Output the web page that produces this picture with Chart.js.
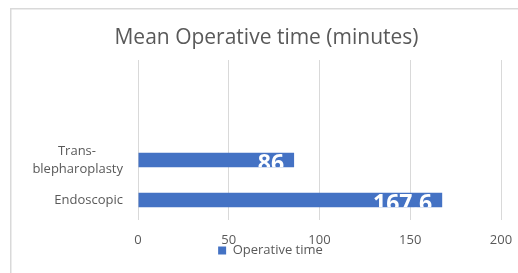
<!DOCTYPE html>
<html><head><meta charset="utf-8">
<script src="https://cdn.jsdelivr.net/npm/chart.js@4"></script>
<style>html,body{margin:0;padding:0;background:#fff;overflow:hidden}canvas{display:block}</style>
</head><body>
<canvas id="c" width="518" height="273"></canvas>
<script>
const categories = ['', '', ['Trans-', 'blepharoplasty'], 'Endoscopic'];
const operativeTime = [null, null, 86, 167.6];
const seriesName = 'Operative time';
const chartTitle = 'Mean Operative time (minutes)';
const xTicks = [0, 50, 100, 150, 200];

const TXT = '#595959';
const FONT = '"Open Sans", "Noto Sans", sans-serif';

// center the lines of a multi-line category label inside its right-aligned block
function centerLines(lines) {
  const c = document.createElement('canvas').getContext('2d');
  c.font = '13px ' + FONT;
  const w = lines.map(l => c.measureText(l).width);
  const max = Math.max(...w);
  const sp = c.measureText('\u00a0').width;
  return lines.map((l, i) => l + '\u00a0'.repeat(Math.round((max - w[i]) / 2 / sp)));
}

const framePlugin = {
  id: 'frame',
  beforeDraw(chart) {
    const ctx = chart.ctx;
    ctx.save();
    ctx.strokeStyle = '#d9d9d9';
    ctx.lineWidth = 1.5;
    ctx.strokeRect(10.75, 8.75, 700, 400);
    ctx.restore();
  }
};

const shiftBoxes = {
  id: 'shiftBoxes',
  afterLayout(chart) {
    const l = chart.legend;
    if (l) { l.left += 20; l.right += 20; }
    const t = chart.titleBlock;
    if (t) { t.left += 16; t.right += 16; }
  }
};

const valueLabels = {
  id: 'valueLabels',
  afterDatasetsDraw(chart) {
    const ctx = chart.ctx;
    const meta = chart.getDatasetMeta(0);
    meta.data.forEach((bar, i) => {
      const v = operativeTime[i];
      if (v == null) return;
      const p = bar.getProps(['x', 'y', 'base', 'height'], true);
      ctx.save();
      ctx.beginPath();
      ctx.rect(p.base, p.y - p.height / 2, p.x - p.base, p.height);
      ctx.clip();
      ctx.fillStyle = '#ffffff';
      ctx.font = 'bold 23px ' + FONT;
      ctx.textAlign = 'right';
      ctx.textBaseline = 'middle';
      ctx.fillText(String(v), p.x - 10, p.y + 4);
      ctx.restore();
    });
  }
};

new Chart(document.getElementById('c'), {
  type: 'bar',
  data: {
    labels: categories,
    datasets: [{
      label: seriesName,
      data: operativeTime,
      backgroundColor: '#4472C4',
      borderWidth: 0,
      categoryPercentage: 1,
      barPercentage: 0.36
    }]
  },
  options: {
    indexAxis: 'y',
    responsive: false,
    animation: false,
    devicePixelRatio: 1,
    layout: { padding: { left: 0, right: 17, top: 10, bottom: 6 } },
    plugins: {
      title: {
        display: true,
        text: chartTitle,
        color: TXT,
        font: { family: FONT, size: 21, weight: 'normal', lineHeight: 1.2 },
        padding: { top: 15, bottom: 9.8 }
      },
      legend: {
        display: true,
        position: 'bottom',
        labels: {
          color: TXT,
          font: { family: FONT, size: 13 },
          boxWidth: 8,
          boxHeight: 8,
          padding: 0
        }
      },
      tooltip: { enabled: false }
    },
    scales: {
      x: {
        type: 'linear',
        min: 0,
        max: 200,
        afterBuildTicks(s) { s.ticks = xTicks.map(v => ({ value: v })); },
        afterFit(s) { s.height = 24; s.paddingRight = 0; s.paddingLeft = 0; },
        grid: { color: '#d9d9d9', drawTicks: false, lineWidth: 1 },
        border: { display: false },
        ticks: { color: TXT, font: { family: FONT, size: 13 }, padding: 12.5 }
      },
      y: {
        type: 'category',
        afterFit(s) { s.width = 138; },
        grid: { display: false, drawTicks: false },
        border: { display: false },
        ticks: {
          color: TXT,
          font: { family: FONT, size: 13, lineHeight: 1.4 },
          padding: 15,
          autoSkip: false,
          callback(value) {
            const lab = this.getLabelForValue(value);
            return Array.isArray(lab) ? centerLines(lab) : lab;
          }
        }
      }
    }
  },
  plugins: [framePlugin, shiftBoxes, valueLabels]
});
</script>
</body></html>
